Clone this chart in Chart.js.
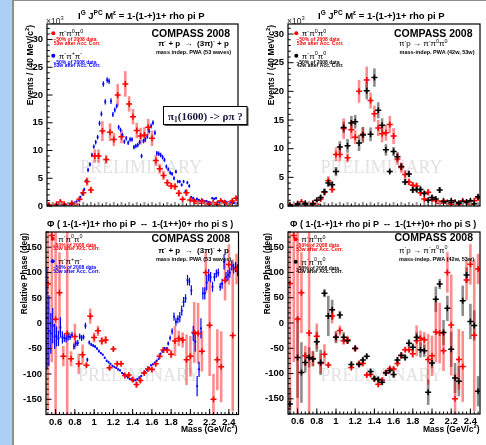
<!DOCTYPE html>
<html><head><meta charset="utf-8">
<script src="https://cdn.jsdelivr.net/npm/chart.js@4.4.1/dist/chart.umd.min.js"></script>
<style>
html,body{margin:0;padding:0;background:#fff;width:486px;height:445px;overflow:hidden;position:relative;}
#strip{position:absolute;left:0;top:0;width:12px;height:445px;background:#abcff5;}
#sline{position:absolute;left:12px;top:0;width:2px;height:445px;background:#8e8e8e;}
#tline{position:absolute;left:12px;top:0;width:474px;height:1px;background:#8e8e8e;}
canvas{position:absolute;}
</style></head><body>
<div id="strip"></div><div id="sline"></div><div id="tline"></div>
<canvas id="c1" width="236" height="216" style="left:14px;top:0px"></canvas>
<canvas id="c2" width="236" height="216" style="left:250px;top:0px"></canvas>
<canvas id="c3" width="236" height="229" style="left:14px;top:216px"></canvas>
<canvas id="c4" width="236" height="229" style="left:250px;top:216px"></canvas>
<script>
// ---------------- DATA ----------------
const mass40 = [0.52,0.56,0.60,0.64,0.68,0.72,0.76,0.80,0.84,0.88,0.92,0.96,1.00,1.04,1.08,1.12,1.16,1.20,1.24,1.28,1.32,1.36,1.40,1.44,1.48,1.52,1.56,1.60,1.64,1.68,1.72,1.76,1.80,1.84,1.88,1.92,1.96,2.00,2.04,2.08,2.12,2.16,2.20,2.24,2.28,2.32,2.36,2.40,2.44,2.48];
const mass20 = [0.51,0.53,0.55,0.57,0.59,0.61,0.63,0.65,0.67,0.69,
0.71,0.73,0.75,0.77,0.79,0.81,0.83,0.85,0.87,0.89,
0.91,0.93,0.95,0.97,0.99,1.01,1.03,1.05,1.07,1.09,
1.11,1.13,1.15,1.17,1.19,1.21,1.23,1.25,1.27,1.29,
1.31,1.33,1.35,1.37,1.39,1.41,1.43,1.45,1.47,1.49,
1.51,1.53,1.55,1.57,1.59,1.61,1.63,1.65,1.67,1.69,
1.71,1.73,1.75,1.77,1.79,1.81,1.83,1.85,1.87,1.89,
1.91,1.93,1.95,1.97,1.99,2.01,2.03,2.05,2.07,2.09,
2.11,2.13,2.15,2.17,2.19,2.21,2.23,2.25,2.27,2.29,
2.31,2.33,2.35,2.37,2.39,2.41,2.43,2.45,2.47,2.49];

const massTicks = [0.6,0.8,1.0,1.2,1.4,1.6,1.8,2.0,2.2,2.4];
const eventsTicks = [0,5,10,15,20,25,30];
const phaseTicks = [-150,-100,-50,0,50,100,150];

// intensity, pi- pi0 pi0, 53 waves (x10^3 events / 40 MeV)
const int3pi0_53w = [0.2,0.1,0.3,0.7,0.3,0.2,0.5,0.3,1.2,2.4,
 4.4,2.9,9.0,9.0,13.5,8.4,13.3,12.0,20.0,12.5,
 22.0,18.4,16.1,13.6,12.6,12.8,14.2,12.2,8.2,6.7,
 5.5,4.2,3.6,3.5,2.3,1.2,2.4,1.1,0.9,0.5,
 0.9,0.5,0.3,0.6,0.3,0.9,0.6,0.3,0.9,1.4];
const int3pi0_53w_err = [0.3,0.3,0.3,0.4,0.3,0.3,0.3,0.3,0.4,0.6,
 0.8,0.6,1.2,1.2,1.8,0.8,1.6,1.2,2.0,1.2,
 2.3,1.4,1.4,1.4,1.5,1.4,1.5,1.4,1.0,0.9,
 0.8,0.6,0.6,0.6,0.6,0.3,0.6,0.3,0.3,0.3,
 0.3,0.3,0.3,0.3,0.3,0.3,0.3,0.3,0.3,0.4];
// intensity, pi- pi0 pi0, 42 waves
const int3pi0_42w = [0.1,0.2,0.4,0.3,0.5,0.2,0.4,1.0,1.5,2.5,
 4.0,3.7,6.0,10.3,13.7,10.5,14.5,14.7,11.0,12.4,
 20.1,12.5,22.4,16.7,14.1,9.8,6.0,9.5,8.6,6.9,
 4.2,5.6,2.8,2.9,2.9,2.2,1.0,1.5,1.2,2.8,
 0.8,0.6,0.9,0.6,0.5,0.7,0.7,0.9,0.4,1.6];
const int3pi0_42w_err = [0.2,0.2,0.2,0.2,0.2,0.2,0.2,0.3,0.4,0.5,
 0.7,0.6,0.8,1.0,1.0,1.2,1.2,1.2,1.4,1.4,
 1.5,1.2,1.6,1.4,1.2,1.0,0.3,0.8,0.8,0.6,
 0.5,0.6,0.5,0.5,0.5,0.4,0.3,0.4,0.3,0.5,
 0.3,0.3,0.3,0.3,0.3,0.3,0.3,0.3,0.3,0.4];
// intensity, pi- pi+ pi-, 53 waves
const int3pic_53w = [0.2,0.1,0.2,0.1,0.2,0.1,0.3,0.2,0.2,0.3,
 0.2,0.3,0.4,0.5,0.6,0.8,1.1,1.6,2.2,3.0,
 4.5,6.5,7.5,9.2,10.7,11.5,12.4,14.9,16.6,22.0,
 18.8,22.7,22.5,18.9,16.5,17.3,18.0,14.2,13.7,12.8,
 11.6,12.2,11.4,12.0,12.0,10.6,10.8,11.0,11.5,9.0,
 11.7,12.0,12.5,13.5,14.4,15.0,13.2,9.5,9.4,9.2,
 8.8,8.3,7.1,6.6,6.0,5.8,5.0,6.2,4.4,4.4,
 3.8,4.4,2.6,4.2,3.6,1.6,1.4,1.0,1.3,1.1,
 0.9,1.0,0.8,0.9,0.7,0.6,1.4,1.3,1.4,0.8,
 0.6,0.9,0.7,0.8,0.6,0.5,0.7,0.6,0.5,0.5];
const int3pic_53w_err = [0.1,0.1,0.1,0.1,0.1,0.1,0.1,0.1,0.1,0.1,
 0.1,0.1,0.15,0.15,0.2,0.2,0.2,0.25,0.3,0.3,
 0.3,0.4,0.4,0.4,0.4,0.4,0.4,0.45,0.45,0.5,
 0.5,0.5,0.5,0.5,0.45,0.45,0.45,0.4,0.4,0.4,
 0.4,0.4,0.4,0.4,0.4,0.4,0.4,0.4,0.4,0.4,
 0.4,0.4,0.4,0.4,0.45,0.45,0.45,0.4,0.4,0.4,
 0.4,0.4,0.4,0.35,0.35,0.35,0.35,0.35,0.3,0.3,
 0.3,0.3,0.3,0.3,0.3,0.25,0.25,0.2,0.2,0.2,
 0.2,0.2,0.2,0.2,0.2,0.2,0.2,0.2,0.2,0.2,
 0.2,0.2,0.2,0.2,0.2,0.2,0.2,0.2,0.2,0.2];

// relative phase (deg)
const phase3pi0_53w = [78,173,8,60,-65,-20,-70,-26,-80,-62,
 -83,14,-28,-15,-35,-33,-88,-51,-80,-80,
 -103,-102,-111,-121,-113,-98,-90,-91,-80,-65,
 -53,-53,-61,-35,-30,-33,-72,-65,-18,-20,
 -55,100,-4,-150,-72,-86,85,116,-24,107];
const phase3pi0_53w_err = [250,250,250,80,20,250,15,25,20,20,
 4,15,10,10,8,8,4,4,4,4,
 4,4,5,6,5,4,4,4,5,5,
 5,5,8,30,15,15,50,40,60,60,
 40,40,100,50,60,70,40,40,150,30];
const phase3pi0_42w = [-160,null,-68,-98,-78,-68,-71,-37,-78,59,
 14,26,-28,16,-28,-35,-82,-50,-82,-73,
 -66,-96,-110,-112,-117,-99,-94,-102,-73,-64,
 -68,-40,-48,-28,-53,-55,-137,-79,47,77,
 -19,29,-52,-109,-115,44,95,3,-5,-135];
const phase3pi0_42w_err = [30,0,80,60,20,20,15,20,25,8,
 40,20,12,8,10,6,6,5,5,5,
 5,5,5,5,5,5,5,6,6,6,
 6,8,8,10,15,12,25,10,25,10,
 25,25,35,30,30,30,15,35,30,30];
const phase3pic_53w = [10,-15,-20,-5,-26,-26,-30,-8,-28,-29,
 -30,-26,-27,-23,-46,-40,-39,-26,-29,-27,
 -5,-72,-38,-42,-44,-46,-50,-55,-59,-62,
 -68,-74,-77,-80,-84,-86,-88,-91,-93,-98,
 -100,-104,-107,-110,-111,-113,-112,-110,-107,-104,
 -98,-96,-92,-88,-83,-81,-78,-74,-70,-60,
 -55,-50,-50,-40,-29,-16,13,3,8,12,
 25,42,49,85,82,65,-20,-36,-124,-91,
 -10,59,59,80,95,91,72,91,98,100,
 72,78,121,91,95,100,114,108,111,105];
const phase3pic_53w_err = [100,70,40,35,25,20,15,20,12,8,
 8,8,6,6,6,6,6,6,6,5,
 6,4,4,3,3,3,3,3,2,2,
 2,2,2,2,2,2,2,2,2,2,
 2,2,2,2,2,2,2,2,2,2,
 2,2,2,2,2,2,2,2,2,2,
 3,3,3,4,5,6,8,8,8,10,
 10,10,8,10,8,10,15,20,20,15,
 20,12,12,15,12,10,10,8,8,8,
 8,10,15,10,10,10,10,10,10,12];

// ---------------- DRAWING HELPERS ----------------
const SANS='"Liberation Sans", Arial, Helvetica, sans-serif';
const SERIF='"Liberation Serif", "Times New Roman", serif';

function rich(ctx,x,y,parts,size,weight,family,color,align){
  const fs=k=>k==='n'?size:size*0.68;
  let w=0;
  parts.forEach(([t,k])=>{ctx.font=`${weight} ${fs(k)}px ${family}`;w+=ctx.measureText(t).width;});
  let cx=align==='center'?x-w/2:(align==='right'?x-w:x);
  ctx.fillStyle=color;ctx.textAlign='left';ctx.textBaseline='alphabetic';
  parts.forEach(([t,k])=>{
    ctx.font=`${weight} ${fs(k)}px ${family}`;
    const dy=k==='sup'?-size*0.42:(k==='sub'?size*0.25:0);
    ctx.fillText(t,cx,y+dy);cx+=ctx.measureText(t).width;
  });
}
function rotTitle(ctx,xc,yTop,parts,size){
  ctx.save();ctx.translate(xc,yTop);ctx.rotate(-Math.PI/2);
  rich(ctx,0,size*0.36,parts,size,'bold',SANS,'#000','right');
  ctx.restore();
}
function dot(ctx,x,y,c){ctx.fillStyle=c;ctx.beginPath();ctx.arc(x,y,2,0,Math.PI*2);ctx.fill();}

const pi0parts=[['π','n'],['-','sup'],['π','n'],['0','sup'],['π','n'],['0','sup']];
const picparts=[['π','n'],['-','sup'],['π','n'],['+','sup'],['π','n'],['-','sup']];
const titleTop=[['I','n'],['G','sup'],[' J','n'],['PC','sup'],[' M','n'],['ε','sup'],[' = 1-(1-+)1+ rho pi P','n']];
const titleBot=[['Φ ( 1-(1-+)1+ rho pi P  --  1-(1++)0+ rho pi S )','n']];
const evTitle=[['Events / (40 MeV/c','n'],['2','sup'],[')','n']];
const phTitle=[['Relative Phase (deg)','n']];
const massTitle=[['Mass (GeV/c','n'],['2','sup'],[')','n']];
const reacC=[['π','n'],['-','sup'],[' + p  →  (3π)','n'],['-','sup'],[' + p','n']];
const reacN=[['π','n'],['-','sup'],['p → π','n'],['-','sup'],['π','n'],['0','sup'],['π','n'],['0','sup']];

function legendBlock(ctx,x,y0,c2,parts2,l2a,l2b){
  dot(ctx,x,y0,'#ff0000');
  rich(ctx,x+5.5,y0+2.8,pi0parts,8,'normal',SANS,'#000','left');
  rich(ctx,x,y0+7.8,[['~50% of 2008 data','n']],5,'bold',SANS,'#ff0000','left');
  rich(ctx,x+0.5,y0+11.3,[['53w after Acc. Corr.','n']],5,'bold',SANS,'#ff0000','left');
  const y1=y0+22.5;
  dot(ctx,x,y1,c2);
  rich(ctx,x+5.5,y1+2.8,parts2,8,'normal',SANS,'#000','left');
  rich(ctx,x,y1+7.8,[[l2a,'n']],5,'bold',SANS,c2,'left');
  rich(ctx,x+0.5,y1+11.3,[[l2b,'n']],5,'bold',SANS,c2,'left');
}
function prelim(ctx,xc,yb){
  ctx.font=`18px ${SERIF}`;ctx.textAlign='center';ctx.textBaseline='alphabetic';
  ctx.fillStyle='#e2e2e2';ctx.fillText('PRELIMINARY',xc,yb);
}

// ---------------- PANELS ----------------
const panels=[
 {id:'c1',L:14,T:0,W:236,H:216,plot:{left:47,right:238,top:24,bottom:206},ymin:0,ymax:32.8,yticks:eventsTicks,
  ymajor:5,yminor:1,xlabels:false,top:true,
  sets:[
   {x:mass40,y:int3pi0_53w,e:int3pi0_53w_err,kind:'red'},
   {x:mass20,y:int3pic_53w,e:int3pic_53w_err,kind:'blue'}],
  bg:ctx=>prelim(ctx,141,173),
  ann:ctx=>{
   rich(ctx,78,19,titleTop,9.5,'bold',SANS,'#000','left');
   rich(ctx,46,23.5,[['×10','n'],['3','sup']],8.5,'normal',SANS,'#222','left');
   rotTitle(ctx,30,25,evTitle,8.5);
   legendBlock(ctx,53.3,33.3,'#0000ff',picparts,'~50% of 2008 data','53w after Acc. Corr.');
   rich(ctx,230,36.5,[['COMPASS 2008','n']],10.5,'bold',SANS,'#000','right');
   rich(ctx,193.5,46,reacC,8,'bold',SANS,'#000','center');
   rich(ctx,193.5,53.5,[['mass indep. PWA (53 waves)','n']],5.5,'bold',SANS,'#000','center');
   // pi1 box
   ctx.fillStyle='#555';ctx.fillRect(164.5,107.5,84,18.5);
   ctx.fillStyle='#fff';ctx.fillRect(163,106,84,18.5);
   ctx.strokeStyle='#000';ctx.lineWidth=1;ctx.strokeRect(163.5,106.5,83.5,18);
   rich(ctx,168,119.5,[['π','n'],['1','sub'],['(1600) -> ρπ ?','n']],11,'bold',SERIF,'#15153d','left');
  }},
 {id:'c2',L:250,T:0,W:236,H:216,plot:{left:288,right:480,top:24,bottom:206},ymin:0,ymax:31.75,yticks:eventsTicks,
  ymajor:5,yminor:1,xlabels:false,top:true,
  sets:[
   {x:mass40,y:int3pi0_42w,e:int3pi0_42w_err,kind:'black'},
   {x:mass40,y:int3pi0_53w,e:int3pi0_53w_err,kind:'red'}],
  bg:ctx=>prelim(ctx,381.5,173),
  ann:ctx=>{
   rich(ctx,318,19,titleTop,9.5,'bold',SANS,'#000','left');
   rich(ctx,287,23.5,[['×10','n'],['3','sup']],8.5,'normal',SANS,'#222','left');
   rotTitle(ctx,270.5,25,evTitle,8.5);
   legendBlock(ctx,296.3,33.3,'#000000',pi0parts,'~50% of 2008 data','42w after Acc. Corr.');
   rich(ctx,472.5,36.5,[['COMPASS 2008','n']],10.5,'bold',SANS,'#000','right');
   rich(ctx,399,46,reacN,8,'normal',SANS,'#000','left');
   rich(ctx,399.5,53.5,[['mass-indep. PWA (42w, 53w)','n']],5.5,'bold',SANS,'#000','left');
  }},
 {id:'c3',L:14,T:216,W:236,H:229,plot:{left:46,right:238.5,top:232,bottom:414.5},ymin:-180,ymax:180,yticks:phaseTicks,
  ymajor:50,yminor:10,xlabels:true,top:false,
  sets:[
   {x:mass40,y:phase3pi0_53w,e:phase3pi0_53w_err,kind:'red'},
   {x:mass20,y:phase3pic_53w,e:phase3pic_53w_err,kind:'blue'}],
  bg:ctx=>prelim(ctx,139,381),
  ann:ctx=>{
   rich(ctx,47,227,titleBot,9,'bold',SANS,'#000','left');
   rotTitle(ctx,24,233,phTitle,8.3);
   rich(ctx,237.5,432,massTitle,8.5,'bold',SANS,'#000','right');
   legendBlock(ctx,52.7,238.7,'#0000ff',picparts,'~50% of 2008 data','53w after Acc. Corr.');
   rich(ctx,230,241.5,[['COMPASS 2008','n']],10.5,'bold',SANS,'#000','right');
   rich(ctx,193.5,253,reacC,8,'bold',SANS,'#000','center');
   rich(ctx,193.5,260.5,[['mass indep. PWA (53 waves)','n']],5.5,'bold',SANS,'#000','center');
  }},
 {id:'c4',L:250,T:216,W:236,H:229,plot:{left:288,right:480,top:232,bottom:414},ymin:-180,ymax:180,yticks:phaseTicks,
  ymajor:50,yminor:10,xlabels:true,top:false,
  sets:[
   {x:mass40,y:phase3pi0_42w,e:phase3pi0_42w_err,kind:'black'},
   {x:mass40,y:phase3pi0_53w,e:phase3pi0_53w_err,kind:'red'}],
  bg:ctx=>prelim(ctx,381.5,381),
  ann:ctx=>{
   rich(ctx,290,227,titleBot,9,'bold',SANS,'#000','left');
   rotTitle(ctx,267,233,phTitle,8.3);
   rich(ctx,479.5,431.5,massTitle,8.5,'bold',SANS,'#000','right');
   legendBlock(ctx,295.7,239.3,'#000000',pi0parts,'~50% of 2008 data','42w after Acc. Corr.');
   rich(ctx,473,241,[['COMPASS 2008','n']],10.5,'bold',SANS,'#000','right');
   rich(ctx,399,252.5,reacN,8,'normal',SANS,'#000','left');
   rich(ctx,399,261,[['mass-indep. PWA (42w, 53w)','n']],5.5,'bold',SANS,'#000','left');
  }}
];

const STYLE={
  red:{band:'rgba(255,0,0,0.45)',bw:2.6,col:'#ff0000',ps:'cross',pr:3,pbw:1.5},
  black:{band:'rgba(0,0,0,0.45)',bw:2.6,col:'#000000',ps:'cross',pr:3,pbw:1.5},
  blue:{band:'#0000ff',bw:1.2,col:'#0000ff',ps:'rect',pr:1.3,pbw:0}
};

panels.forEach(P=>{
  const datasets=P.sets.map(s=>{
    const st=STYLE[s.kind];
    return {
      data:s.x.map((m,i)=>({x:m,y:s.y[i]})),
      errs:s.e, band:st.band, bw:st.bw,
      showLine:false, pointStyle:st.ps, pointRadius:st.pr, pointHoverRadius:st.pr,
      borderColor:st.col, backgroundColor:st.col, pointBorderWidth:st.pbw, borderWidth:st.pbw
    };
  });
  const plug={
    id:'custom'+P.id,
    beforeDatasetsDraw(chart){
      const ctx=chart.ctx,a=chart.chartArea,ys=chart.scales.y;
      ctx.save();ctx.translate(-P.L,-P.T);P.bg(ctx);ctx.restore();
      ctx.save();ctx.beginPath();ctx.rect(a.left,a.top,a.right-a.left,a.bottom-a.top);ctx.clip();
      chart.data.datasets.forEach((ds,i)=>{
        const meta=chart.getDatasetMeta(i);
        meta.data.forEach((pt,j)=>{
          const v=ds.data[j].y,e=ds.errs[j];
          if(v==null||!e) return;
          const y1=ys.getPixelForValue(v-e),y2=ys.getPixelForValue(v+e);
          ctx.strokeStyle=ds.band;ctx.lineWidth=ds.bw;
          ctx.beginPath();ctx.moveTo(pt.x,y1);ctx.lineTo(pt.x,y2);ctx.stroke();
        });
      });
      ctx.restore();
    },
    afterDraw(chart){
      const ctx=chart.ctx,a=chart.chartArea,xs=chart.scales.x,ys=chart.scales.y;
      ctx.save();
      const ln=(x1,y1,x2,y2)=>{ctx.beginPath();ctx.moveTo(x1,y1);ctx.lineTo(x2,y2);ctx.stroke();};
      // x ticks
      if(P.top){
        mass40.forEach((m,i)=>{
          const x=xs.getPixelForValue(m);
          if(i%2===1){ctx.strokeStyle='#9a9a9a';ctx.lineWidth=2;ln(x,a.bottom,x,a.bottom-4);}
          else{ctx.strokeStyle='#000';ctx.lineWidth=1;ln(x,a.bottom,x,a.bottom-2.5);}
        });
      } else {
        ctx.strokeStyle='#000';ctx.lineWidth=1;
        mass40.forEach(m=>{const x=xs.getPixelForValue(m);ln(x,a.bottom,x,a.bottom-2.5);});
        massTicks.forEach(m=>{const x=xs.getPixelForValue(m);ln(x,a.bottom,x,a.bottom-5.5);});
      }
      // y ticks
      ctx.strokeStyle='#000';ctx.lineWidth=1;
      for(let v=Math.ceil(P.ymin/P.yminor)*P.yminor; v<=P.ymax; v+=P.yminor){
        const y=ys.getPixelForValue(v);
        const major=Math.abs(v/P.ymajor-Math.round(v/P.ymajor))<1e-6;
        ln(a.left,y,a.left+(major?5.5:2.8),y);
      }
      ctx.lineWidth=1.2;ctx.strokeRect(a.left,a.top,a.right-a.left,a.bottom-a.top);
      ctx.translate(-P.L,-P.T);P.ann(ctx);
      ctx.restore();
    }
  };
  const tickFont={family:SANS,size:9.5,weight:'bold'};
  new Chart(document.getElementById(P.id),{
    type:'scatter',
    data:{datasets},
    options:{
      responsive:false,animation:false,devicePixelRatio:1,
      layout:{padding:{left:0,right:P.L+P.W-P.plot.right,top:P.plot.top-P.T,bottom:0}},
      plugins:{legend:{display:false},title:{display:false},tooltip:{enabled:false}},
      events:[],
      scales:{
        x:{type:'linear',min:0.5,max:2.5,
           grid:{display:false,drawTicks:false},border:{display:false},
           afterFit:s=>{s.height=P.T+P.H-P.plot.bottom;},
           afterBuildTicks:s=>{s.ticks=massTicks.map(v=>({value:v}));},
           ticks:{display:P.xlabels,padding:2,font:tickFont,color:'#000',autoSkip:false,maxRotation:0,
                  callback:v=>String(+Number(v).toFixed(1))}},
        y:{type:'linear',min:P.ymin,max:P.ymax,
           grid:{display:false,drawTicks:false},border:{display:false},
           afterFit:s=>{s.width=P.plot.left-P.L;},
           afterBuildTicks:s=>{s.ticks=P.yticks.map(v=>({value:v}));},
           ticks:{padding:4,font:tickFont,color:'#000',autoSkip:false,callback:v=>String(v)}}
      }
    },
    plugins:[plug]
  });
});
</script>
</body></html>
